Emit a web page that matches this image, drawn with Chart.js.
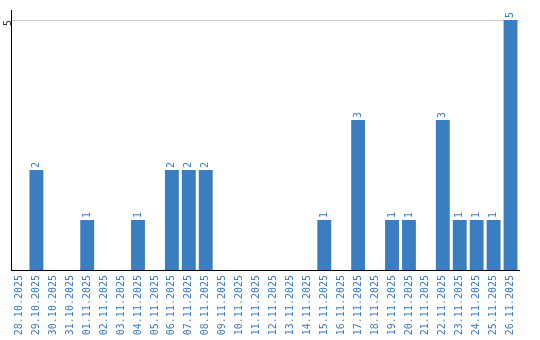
<!DOCTYPE html>
<html>
<head>
<meta charset="utf-8">
<script src="https://cdn.jsdelivr.net/npm/chart.js@4/dist/chart.umd.min.js"></script>
<style>
  html, body { margin: 0; padding: 0; background: #fff; }
  #wrap { width: 540px; height: 340px; }
</style>
</head>
<body>
<div id="wrap"><canvas id="myChart"></canvas></div>
<script>
var dates = ['28.10.2025', '29.10.2025', '30.10.2025', '31.10.2025', '01.11.2025', '02.11.2025',
    '03.11.2025', '04.11.2025', '05.11.2025', '06.11.2025', '07.11.2025', '08.11.2025',
    '09.11.2025', '10.11.2025', '11.11.2025', '12.11.2025', '13.11.2025', '14.11.2025',
    '15.11.2025', '16.11.2025', '17.11.2025', '18.11.2025', '19.11.2025', '20.11.2025',
    '21.11.2025', '22.11.2025', '23.11.2025', '24.11.2025', '25.11.2025', '26.11.2025'];
var counts = [0, 2, 0, 0, 1, 0, 0, 1, 0, 2, 2, 2, 0, 0, 0, 0, 0, 0, 1, 0, 3, 0, 1, 1, 0, 3, 1, 1, 1, 5];
var yTicks = [5];

var blue = '#3b7dc1';
var monoFont = { family: '"DejaVu Sans Mono", monospace', size: 10 };

// value labels above the bars, rotated like the axis labels
var barLabels = {
    id: 'barLabels',
    afterDatasetsDraw: function(chart) {
        var ctx = chart.ctx;
        var meta = chart.getDatasetMeta(0);
        ctx.save();
        ctx.fillStyle = blue;
        ctx.font = '10px "DejaVu Sans Mono", monospace';
        ctx.textAlign = 'left';
        ctx.textBaseline = 'middle';
        meta.data.forEach(function(bar, i) {
            var v = counts[i];
            if (!v) return;
            ctx.save();
            ctx.translate(bar.x, bar.y - 2);
            ctx.rotate(-Math.PI / 2);
            ctx.fillText(String(v), 0, 0);
            ctx.restore();
        });
        ctx.restore();
    }
};

var ctx = document.getElementById('myChart').getContext('2d');
var chart = new Chart(ctx, {
    type: 'bar',
    data: {
        labels: dates,
        datasets: [{
            data: counts,
            backgroundColor: blue,
            borderWidth: 0,
            barPercentage: 0.82,
            categoryPercentage: 1
        }]
    },
    options: {
        responsive: true,
        maintainAspectRatio: false,
        animation: false,
        layout: { padding: { left: 0, right: 21, top: 10, bottom: 0 } },
        plugins: {
            legend: { display: false },
            tooltip: { enabled: false }
        },
        scales: {
            x: {
                offset: true,
                afterFit: function(scale) {
                    scale.height = 70;
                },
                grid: { display: false, drawTicks: false },
                border: { display: true, color: '#000', width: 1 },
                ticks: {
                    color: blue,
                    font: monoFont,
                    minRotation: 90,
                    maxRotation: 90,
                    autoSkip: false,
                    padding: 5
                }
            },
            y: {
                min: 0,
                max: 5.2,
                afterBuildTicks: function(scale) {
                    scale.ticks = yTicks.map(function(v) { return { value: v }; });
                },
                afterFit: function(scale) {
                    scale.width = 11;
                },
                grid: { color: '#cccccc', drawTicks: false },
                border: { display: true, color: '#000', width: 1 },
                ticks: {
                    color: '#333',
                    font: monoFont,
                    minRotation: 90,
                    maxRotation: 90,
                    padding: 3
                }
            }
        }
    },
    plugins: [barLabels]
});
</script>
</body>
</html>
